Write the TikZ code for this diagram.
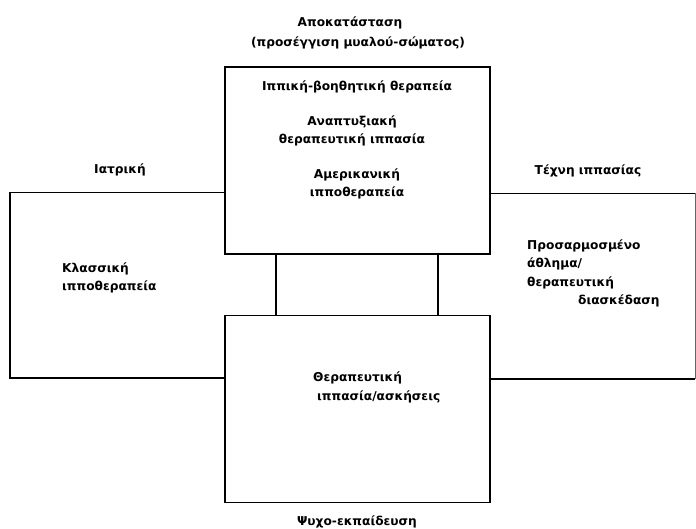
\documentclass[tikz,border=0pt]{standalone}
\usepackage{fontspec}
\setmainfont{DejaVu Sans}
\begin{document}
\begin{tikzpicture}[x=1pt,y=-1pt,
  box/.style={draw,line width=1.9pt,minimum width=265pt,minimum height=187pt,inner sep=0pt,outer sep=0pt},
  frame/.style={draw,line width=1.9pt,line join=miter},
  link/.style={draw,line width=1.9pt},
  lbl/.style={font=\fontsize{12.2}{18.5}\selectfont\bfseries,inner sep=0pt,align=center},
  lbll/.style={lbl,align=left}]
\useasboundingbox (0,0) rectangle (696,529);
% boxes
\node[box] (top) at (357.5,160.5) {};
\node[box] (bot) at (357.5,409) {};
% coordinates for frames
\coordinate (lt) at (10,192.5);
\coordinate (lb) at (10,378);
\coordinate (rt) at (695,193.5);
\coordinate (rb) at (695,379);
\coordinate (c1) at (276,0);
\coordinate (c2) at (438,0);
% left region
\draw[frame] (top.west |- lt) -- (lt) -- (lb) -- (bot.west |- lb);
% right region
\draw[frame] (top.east |- rt) -- (rt);
\draw[frame] (bot.east |- rb) -- (rb);
\draw[line width=0.6pt,black!60] (rt) -- (rb);
% connectors
\draw[link] (top.south -| c1) -- (bot.north -| c1);
\draw[link] (top.south -| c2) -- (bot.north -| c2);
% labels
\node[lbl] (t1) at (350,23) {Αποκατάσταση};
\node[lbl] (t2) at (358,43) {(προσέγγιση μυαλού-σώματος)};
\node[lbl] (a1) at (357,87) {Ιππική-βοηθητική θεραπεία};
\node[lbl] (a2) at (352,131) {Αναπτυξιακή\\θεραπευτική ιππασία};
\node[lbl] (a3) at (357,184) {Αμερικανική\\ιπποθεραπεία};
\node[lbl] (l1) at (120,170) {Ιατρική};
\node[lbll,anchor=west] (l2) at (62,278) {Κλασσική\\ιπποθεραπεία};
\node[lbl] (r1) at (588,171) {Τέχνη ιππασίας};
\node[lbll,anchor=west] (r2) at (527,273.5) {Προσαρμοσμένο\\άθλημα/\\θεραπευτική\\\hspace*{51pt}διασκέδαση};
\node[lbll,anchor=west] (b1) at (313,387.5) {Θεραπευτική\\\hspace*{4pt}ιππασία/ασκήσεις};
\node[lbl] (b2) at (357,522) {Ψυχο-εκπαίδευση};
\end{tikzpicture}
\end{document}
